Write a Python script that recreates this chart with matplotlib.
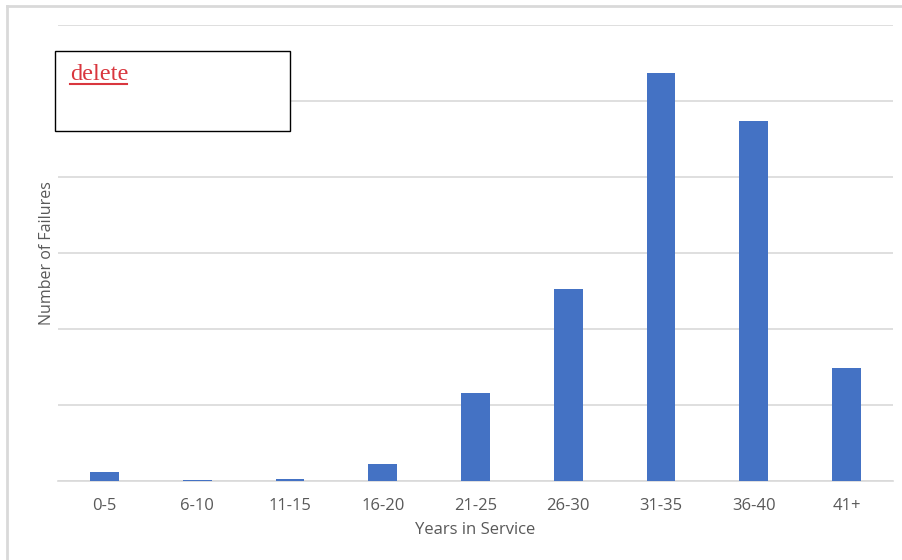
import numpy as np
import matplotlib.pyplot as plt
from matplotlib.patches import Rectangle
from matplotlib.lines import Line2D

# data (gridline step = 20 units, no y labels shown)
age_bins = ['0-5', '6-10', '11-15', '16-20', '21-25', '26-30', '31-35', '36-40', '41+']
failures = [2.4, 0.3, 0.4, 4.5, 23.2, 50.5, 107.4, 94.7, 29.7]

W, H = 903, 560
fig = plt.figure(figsize=(W / 100, H / 100), dpi=100)
fig.patch.set_facecolor('white')

def fx(px):
    return px / W

def fy(py):
    return 1 - py / H

ax = fig.add_axes([fx(58), fy(481), fx(893) - fx(58), fy(25) - fy(481)])

x = np.arange(len(age_bins))
ax.bar(x, failures, width=0.31, color='#4472C4', zorder=3)

ax.set_xlim(-0.5, len(age_bins) - 0.5)
ax.set_ylim(0, 120)
ax.set_yticks(np.arange(0, 121, 20))
ax.set_yticklabels([])
ax.tick_params(axis='y', length=0, pad=0)
ax.grid(axis='y', color='#D9D9D9', linewidth=1.2, zorder=0)

ax.set_xticks(x)
ax.set_xticklabels(age_bins, fontsize=12, color='#595959', family='Open Sans')
ax.tick_params(axis='x', length=0, pad=12)

for s in ['top', 'right', 'left']:
    ax.spines[s].set_visible(False)
ax.spines['bottom'].set_color('#D9D9D9')
ax.spines['bottom'].set_linewidth(1.2)

ax.set_xlabel('Years in Service', fontsize=12, color='#595959', family='Open Sans', labelpad=6)
ax.set_ylabel('Number of Failures', fontsize=11.5, color='#595959', family='Open Sans', labelpad=2)

# outer chart frame (only top and left edges visible)
fig.add_artist(Line2D([fx(7), 1], [fy(6), fy(6)], color='#D9D9D9', lw=2, transform=fig.transFigure))
fig.add_artist(Line2D([fx(7), fx(7)], [fy(6), 0], color='#D9D9D9', lw=2, transform=fig.transFigure))

# the "delete" note box
fig.add_artist(Rectangle((fx(55), fy(131)), fx(290) - fx(55), fy(51) - fy(131),
                         facecolor='white', edgecolor='black', lw=1,
                         transform=fig.transFigure, zorder=5))
fig.text(fx(70), fy(80), 'delete', fontsize=17.5, color='#D9363E', family='Liberation Serif',
         ha='left', va='baseline', zorder=6)
fig.add_artist(Line2D([fx(70), fx(127)], [fy(84), fy(84)], color='#D9363E', lw=1.5,
                      transform=fig.transFigure, zorder=6))

fig.savefig('out.png', dpi=100)
